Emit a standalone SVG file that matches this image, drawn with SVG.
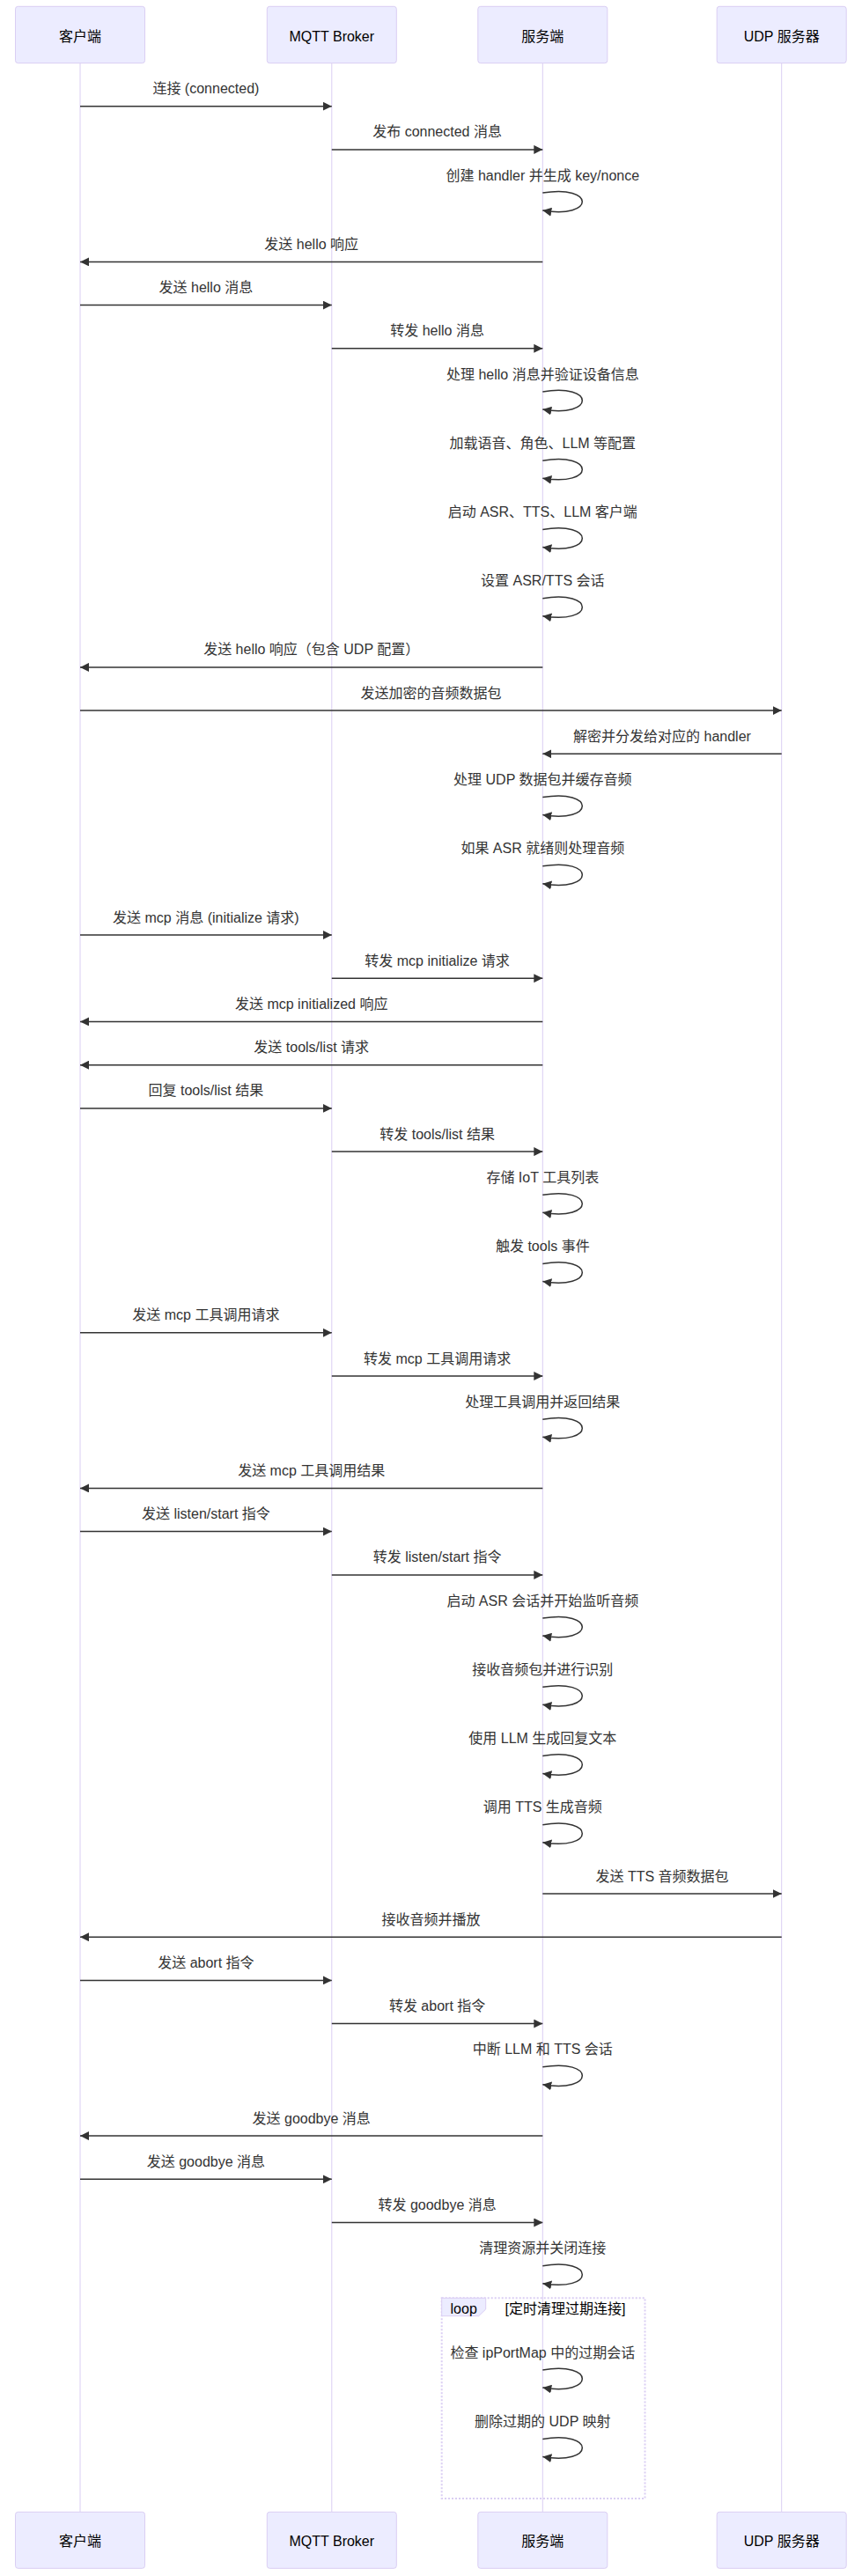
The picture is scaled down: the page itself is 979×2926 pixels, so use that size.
<svg xmlns="http://www.w3.org/2000/svg" width="979" height="2926" viewBox="0 0 979 2926">
<style>
text{font-family:"Liberation Sans",Arial,"Noto Sans CJK SC",sans-serif;font-size:16px}
.actor{fill:#ECECFF;stroke:#DACEF3;stroke-width:1}
.lifeline{stroke:#DACEF3;stroke-width:1}
.at{fill:#000;text-anchor:middle}
.mt{fill:#333;text-anchor:middle}
.msg{stroke:#333;stroke-width:1.5;fill:none;marker-end:url(#arrow)}
.loopLine{stroke:#DACEF3;stroke-width:2;stroke-dasharray:2,2;fill:none}
.labelBox{fill:#ECECFF;stroke:#DACEF3;stroke-width:1}
.lt{fill:#000}
</style>
<defs>
<marker id="arrow" viewBox="0 0 10 10" refX="10" refY="5" markerWidth="10" markerHeight="10" markerUnits="userSpaceOnUse" orient="auto"><path d="M0,0 L10,5 L0,10 z" fill="#333"/></marker>
</defs>
<rect x="0" y="0" width="979" height="2926" fill="#fff"/>

<g id="lifelines">
<line class="lifeline" x1="91" y1="71.7" x2="91" y2="2853.3"/>
<line class="lifeline" x1="376.8" y1="71.7" x2="376.8" y2="2853.3"/>
<line class="lifeline" x1="616.3" y1="71.7" x2="616.3" y2="2853.3"/>
<line class="lifeline" x1="887.7" y1="71.7" x2="887.7" y2="2853.3"/>
</g>

<g id="actor-client">
<rect class="actor" x="17.5" y="7.3" width="147" height="64.4" rx="3"/>
<text class="at" x="91" y="47">客户端</text>
<rect class="actor" x="17.5" y="2853.3" width="147" height="64" rx="3"/>
<text class="at" x="91" y="2892">客户端</text>
</g>
<g id="actor-broker">
<rect class="actor" x="303.3" y="7.3" width="147" height="64.4" rx="3"/>
<text class="at" x="376.8" y="47">MQTT Broker</text>
<rect class="actor" x="303.3" y="2853.3" width="147" height="64" rx="3"/>
<text class="at" x="376.8" y="2892">MQTT Broker</text>
</g>
<g id="actor-server">
<rect class="actor" x="542.8" y="7.3" width="147" height="64.4" rx="3"/>
<text class="at" x="616.3" y="47">服务端</text>
<rect class="actor" x="542.8" y="2853.3" width="147" height="64" rx="3"/>
<text class="at" x="616.3" y="2892">服务端</text>
</g>
<g id="actor-udp">
<rect class="actor" x="814.2" y="7.3" width="147" height="64.4" rx="3"/>
<text class="at" x="887.7" y="47">UDP 服务器</text>
<rect class="actor" x="814.2" y="2853.3" width="147" height="64" rx="3"/>
<text class="at" x="887.7" y="2892">UDP 服务器</text>
</g>

<g id="loop">
<rect class="loopLine" x="501.7" y="2610.3" width="230.8" height="227.7"/>
<polygon class="labelBox" points="501.7,2610.3 551.7,2610.3 551.7,2623 543.7,2630.7 501.7,2630.7"/>
<text class="lt" x="526.7" y="2627.5" text-anchor="middle">loop</text>
<text class="lt" x="642" y="2627.5" text-anchor="middle">[定时清理过期连接]</text>
</g>

<g id="connectors">
<line class="msg" x1="91" y1="120.7" x2="376.8" y2="120.7"/>
<text class="mt" x="233.9" y="106.2">连接 (connected)</text>
<line class="msg" x1="376.8" y1="169.9" x2="616.3" y2="169.9"/>
<text class="mt" x="496.6" y="155.4">发布 connected 消息</text>
<path class="msg" d="M616.3,219.1 C676.3,209.1 676.3,249.1 616.3,239.1"/>
<text class="mt" x="616.3" y="204.6">创建 handler 并生成 key/nonce</text>
<line class="msg" x1="616.3" y1="297.4" x2="91" y2="297.4"/>
<text class="mt" x="353.7" y="282.9">发送 hello 响应</text>
<line class="msg" x1="91" y1="346.6" x2="376.8" y2="346.6"/>
<text class="mt" x="233.9" y="332.1">发送 hello 消息</text>
<line class="msg" x1="376.8" y1="395.8" x2="616.3" y2="395.8"/>
<text class="mt" x="496.6" y="381.3">转发 hello 消息</text>
<path class="msg" d="M616.3,445 C676.3,435 676.3,475 616.3,465"/>
<text class="mt" x="616.3" y="430.5">处理 hello 消息并验证设备信息</text>
<path class="msg" d="M616.3,523.2 C676.3,513.2 676.3,553.2 616.3,543.2"/>
<text class="mt" x="616.3" y="508.7">加载语音、角色、LLM 等配置</text>
<path class="msg" d="M616.3,601.5 C676.3,591.5 676.3,631.5 616.3,621.5"/>
<text class="mt" x="616.3" y="587">启动 ASR、TTS、LLM 客户端</text>
<path class="msg" d="M616.3,679.7 C676.3,669.7 676.3,709.7 616.3,699.7"/>
<text class="mt" x="616.3" y="665.2">设置 ASR/TTS 会话</text>
<line class="msg" x1="616.3" y1="757.9" x2="91" y2="757.9"/>
<text class="mt" x="353.7" y="743.4">发送 hello 响应（包含 UDP 配置）</text>
<line class="msg" x1="91" y1="807.1" x2="887.7" y2="807.1"/>
<text class="mt" x="489.4" y="792.6">发送加密的音频数据包</text>
<line class="msg" x1="887.7" y1="856.3" x2="616.3" y2="856.3"/>
<text class="mt" x="752" y="841.8">解密并分发给对应的 handler</text>
<path class="msg" d="M616.3,905.6 C676.3,895.6 676.3,935.6 616.3,925.6"/>
<text class="mt" x="616.3" y="891.1">处理 UDP 数据包并缓存音频</text>
<path class="msg" d="M616.3,983.8 C676.3,973.8 676.3,1013.8 616.3,1003.8"/>
<text class="mt" x="616.3" y="969.3">如果 ASR 就绪则处理音频</text>
<line class="msg" x1="91" y1="1062" x2="376.8" y2="1062"/>
<text class="mt" x="233.9" y="1047.5">发送 mcp 消息 (initialize 请求)</text>
<line class="msg" x1="376.8" y1="1111.2" x2="616.3" y2="1111.2"/>
<text class="mt" x="496.6" y="1096.7">转发 mcp initialize 请求</text>
<line class="msg" x1="616.3" y1="1160.4" x2="91" y2="1160.4"/>
<text class="mt" x="353.7" y="1145.9">发送 mcp initialized 响应</text>
<line class="msg" x1="616.3" y1="1209.7" x2="91" y2="1209.7"/>
<text class="mt" x="353.7" y="1195.2">发送 tools/list 请求</text>
<line class="msg" x1="91" y1="1258.9" x2="376.8" y2="1258.9"/>
<text class="mt" x="233.9" y="1244.4">回复 tools/list 结果</text>
<line class="msg" x1="376.8" y1="1308.1" x2="616.3" y2="1308.1"/>
<text class="mt" x="496.6" y="1293.6">转发 tools/list 结果</text>
<path class="msg" d="M616.3,1357.3 C676.3,1347.3 676.3,1387.3 616.3,1377.3"/>
<text class="mt" x="616.3" y="1342.8">存储 IoT 工具列表</text>
<path class="msg" d="M616.3,1435.5 C676.3,1425.5 676.3,1465.5 616.3,1455.5"/>
<text class="mt" x="616.3" y="1421">触发 tools 事件</text>
<line class="msg" x1="91" y1="1513.8" x2="376.8" y2="1513.8"/>
<text class="mt" x="233.9" y="1499.3">发送 mcp 工具调用请求</text>
<line class="msg" x1="376.8" y1="1563" x2="616.3" y2="1563"/>
<text class="mt" x="496.6" y="1548.5">转发 mcp 工具调用请求</text>
<path class="msg" d="M616.3,1612.2 C676.3,1602.2 676.3,1642.2 616.3,1632.2"/>
<text class="mt" x="616.3" y="1597.7">处理工具调用并返回结果</text>
<line class="msg" x1="616.3" y1="1690.4" x2="91" y2="1690.4"/>
<text class="mt" x="353.7" y="1675.9">发送 mcp 工具调用结果</text>
<line class="msg" x1="91" y1="1739.6" x2="376.8" y2="1739.6"/>
<text class="mt" x="233.9" y="1725.1">发送 listen/start 指令</text>
<line class="msg" x1="376.8" y1="1788.9" x2="616.3" y2="1788.9"/>
<text class="mt" x="496.6" y="1774.4">转发 listen/start 指令</text>
<path class="msg" d="M616.3,1838.1 C676.3,1828.1 676.3,1868.1 616.3,1858.1"/>
<text class="mt" x="616.3" y="1823.6">启动 ASR 会话并开始监听音频</text>
<path class="msg" d="M616.3,1916.3 C676.3,1906.3 676.3,1946.3 616.3,1936.3"/>
<text class="mt" x="616.3" y="1901.8">接收音频包并进行识别</text>
<path class="msg" d="M616.3,1994.5 C676.3,1984.5 676.3,2024.5 616.3,2014.5"/>
<text class="mt" x="616.3" y="1980">使用 LLM 生成回复文本</text>
<path class="msg" d="M616.3,2072.7 C676.3,2062.7 676.3,2102.7 616.3,2092.7"/>
<text class="mt" x="616.3" y="2058.2">调用 TTS 生成音频</text>
<line class="msg" x1="616.3" y1="2151" x2="887.7" y2="2151"/>
<text class="mt" x="752" y="2136.5">发送 TTS 音频数据包</text>
<line class="msg" x1="887.7" y1="2200.2" x2="91" y2="2200.2"/>
<text class="mt" x="489.4" y="2185.7">接收音频并播放</text>
<line class="msg" x1="91" y1="2249.4" x2="376.8" y2="2249.4"/>
<text class="mt" x="233.9" y="2234.9">发送 abort 指令</text>
<line class="msg" x1="376.8" y1="2298.6" x2="616.3" y2="2298.6"/>
<text class="mt" x="496.6" y="2284.1">转发 abort 指令</text>
<path class="msg" d="M616.3,2347.8 C676.3,2337.8 676.3,2377.8 616.3,2367.8"/>
<text class="mt" x="616.3" y="2333.3">中断 LLM 和 TTS 会话</text>
<line class="msg" x1="616.3" y1="2426.1" x2="91" y2="2426.1"/>
<text class="mt" x="353.7" y="2411.6">发送 goodbye 消息</text>
<line class="msg" x1="91" y1="2475.3" x2="376.8" y2="2475.3"/>
<text class="mt" x="233.9" y="2460.8">发送 goodbye 消息</text>
<line class="msg" x1="376.8" y1="2524.5" x2="616.3" y2="2524.5"/>
<text class="mt" x="496.6" y="2510">转发 goodbye 消息</text>
<path class="msg" d="M616.3,2573.7 C676.3,2563.7 676.3,2603.7 616.3,2593.7"/>
<text class="mt" x="616.3" y="2559.2">清理资源并关闭连接</text>
<path class="msg" d="M616.3,2692 C676.3,2682 676.3,2722 616.3,2712"/>
<text class="mt" x="616.3" y="2677.5">检查 ipPortMap 中的过期会话</text>
<path class="msg" d="M616.3,2770.5 C676.3,2760.5 676.3,2800.5 616.3,2790.5"/>
<text class="mt" x="616.3" y="2756">删除过期的 UDP 映射</text>
</g>
</svg>
